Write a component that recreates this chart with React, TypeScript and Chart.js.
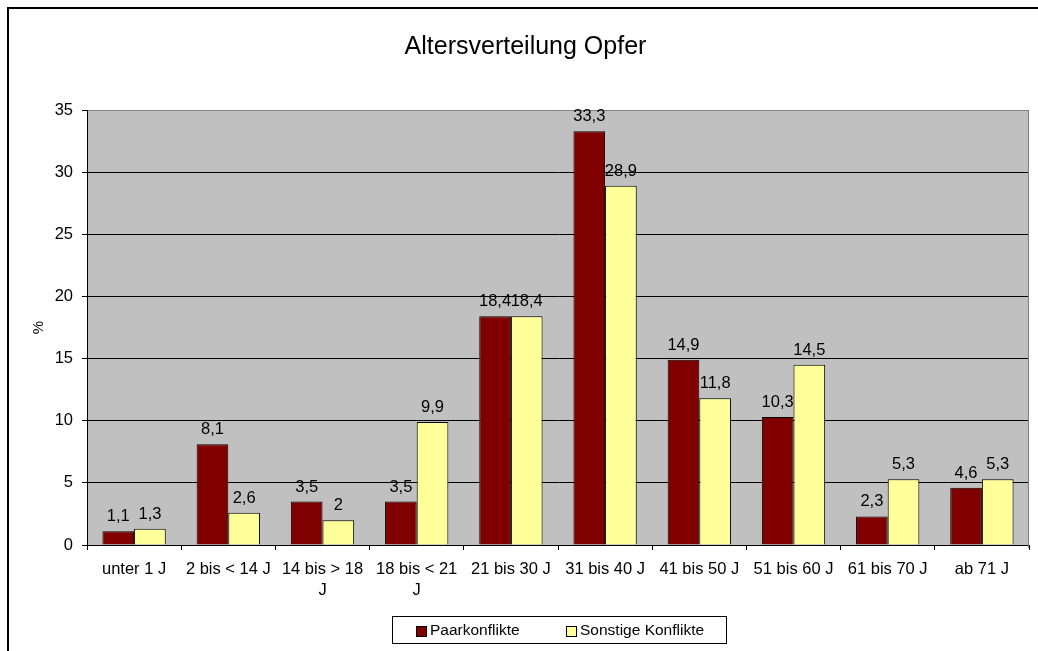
import React, { useEffect, useRef } from "react";
import { Chart, registerables } from "chart.js";

Chart.register(...registerables);

const categories: (string | string[])[] = [
  "unter 1 J",
  "2 bis < 14 J",
  ["14 bis > 18", "J"],
  ["18 bis < 21", "J"],
  "21 bis 30 J",
  "31 bis 40 J",
  "41 bis 50 J",
  "51 bis 60 J",
  "61 bis 70 J",
  "ab 71 J",
];
const paarkonflikte = [1.1, 8.1, 3.5, 3.5, 18.4, 33.3, 14.9, 10.3, 2.3, 4.6];
const sonstigeKonflikte = [1.3, 2.6, 2, 9.9, 18.4, 28.9, 11.8, 14.5, 5.3, 5.3];
const seriesNames = ["Paarkonflikte", "Sonstige Konflikte"];
const seriesColors = ["#800000", "#FFFF99"];
const titleText = "Altersverteilung Opfer";
const yTitle = "%";

const FONT = "'Liberation Sans', Arial, sans-serif";

const fmt = (v: number) => String(v).replace(".", ",");

const decorPlugin = {
  id: "decor",
  beforeDraw(chart: any) {
    const { ctx, chartArea } = chart;
    ctx.save();
    ctx.fillStyle = "#ffffff";
    ctx.fillRect(0, 0, chart.width, chart.height);
    // outer frame (left and top visible)
    ctx.fillStyle = "#000000";
    ctx.fillRect(7, 7, 2, chart.height);
    ctx.fillRect(7, 7, chart.width, 2);
    // plot background
    ctx.fillStyle = "#C0C0C0";
    ctx.fillRect(chartArea.left, chartArea.top, chartArea.right - chartArea.left, chartArea.bottom - chartArea.top);
    // title
    ctx.fillStyle = "#000000";
    ctx.font = `25px ${FONT}`;
    ctx.textAlign = "center";
    ctx.textBaseline = "middle";
    ctx.fillText(titleText, 525.5, 47);
    ctx.restore();
  },
  afterDatasetsDraw(chart: any) {
    const { ctx, chartArea } = chart;
    ctx.save();
    // right plot border
    ctx.strokeStyle = "#808080";
    ctx.lineWidth = 1;
    ctx.beginPath();
    ctx.moveTo(Math.round(chartArea.right) - 0.5, chartArea.top);
    ctx.lineTo(Math.round(chartArea.right) - 0.5, chartArea.bottom + 3);
    ctx.stroke();
    // data labels
    ctx.fillStyle = "#000000";
    ctx.font = `16.5px ${FONT}`;
    ctx.textAlign = "center";
    ctx.textBaseline = "alphabetic";
    chart.data.datasets.forEach((ds: any, di: number) => {
      const meta = chart.getDatasetMeta(di);
      meta.data.forEach((el: any, i: number) => {
        ctx.fillText(fmt(ds.data[i]), el.x, el.y - 10);
      });
    });
    // legend
    const bx = 392.5, by = 616.5, bw = 334, bh = 27;
    ctx.fillStyle = "#ffffff";
    ctx.fillRect(bx, by, bw, bh);
    ctx.strokeStyle = "#000000";
    ctx.strokeRect(bx, by, bw, bh);
    const items = [
      { mx: 416.5, tx: 430 },
      { mx: 566.5, tx: 580 },
    ];
    ctx.font = `15.5px ${FONT}`;
    ctx.textAlign = "left";
    ctx.textBaseline = "middle";
    chart.data.datasets.forEach((ds: any, di: number) => {
      const it = items[di];
      ctx.fillStyle = ds.backgroundColor;
      ctx.fillRect(it.mx, 626.5, 10, 10);
      ctx.strokeStyle = "#000000";
      ctx.strokeRect(it.mx, 626.5, 10, 10);
      ctx.fillStyle = "#000000";
      ctx.fillText(ds.label, it.tx, 631);
    });
    ctx.restore();
  },
};

export default function App() {
  const ref = useRef<HTMLCanvasElement | null>(null);
  useEffect(() => {
    if (!ref.current) return;
    Chart.defaults.font.family = FONT;
    const chart = new Chart(ref.current, {
      type: "bar",
      data: {
        labels: categories,
        datasets: [
          {
            label: seriesNames[0],
            data: paarkonflikte,
            backgroundColor: seriesColors[0],
            borderColor: "#000000",
            borderWidth: 1,
            categoryPercentage: 0.672,
            barPercentage: 1,
          },
          {
            label: seriesNames[1],
            data: sonstigeKonflikte,
            backgroundColor: seriesColors[1],
            borderColor: "#000000",
            borderWidth: 1,
            categoryPercentage: 0.672,
            barPercentage: 1,
          },
        ],
      },
      options: {
        animation: false,
        responsive: true,
        maintainAspectRatio: false,
        layout: { padding: { left: 10, right: 9, top: 110, bottom: 40 } },
        plugins: {
          legend: { display: false },
          title: { display: false },
          tooltip: { enabled: false },
        },
        scales: {
          x: {
            afterFit: (s: any) => {
              s.height = 66;
            },
            grid: {
              offset: true,
              drawOnChartArea: false,
              drawTicks: true,
              tickLength: 5,
              color: "#000000",
              tickColor: "#000000",
            },
            border: { display: true, color: "#000000", width: 1 },
            ticks: {
              color: "#000000",
              font: { size: 16.5, lineHeight: 1.27 },
              padding: 9,
              maxRotation: 0,
              autoSkip: false,
            },
          },
          y: {
            min: 0,
            max: 35,
            afterFit: (s: any) => {
              s.width = 77;
            },
            grid: {
              color: (c: any) => (c.tick && c.tick.value === 35 ? "#808080" : "#000000"),
              tickColor: "#000000",
              tickLength: 5,
              lineWidth: 1,
            },
            border: { display: true, color: "#000000", width: 1 },
            ticks: {
              stepSize: 5,
              color: "#000000",
              font: { size: 16.5 },
              padding: 9,
            },
            title: {
              display: true,
              text: yTitle,
              color: "#000000",
              font: { size: 15 },
              padding: { top: 20, bottom: 0 },
            },
          },
        },
      },
      plugins: [decorPlugin],
    });
    return () => chart.destroy();
  }, []);
  return (
    <div style={{ position: "fixed", left: 0, top: 0, width: 1038, height: 651, background: "#fff" }}>
      <canvas ref={ref} />
    </div>
  );
}
